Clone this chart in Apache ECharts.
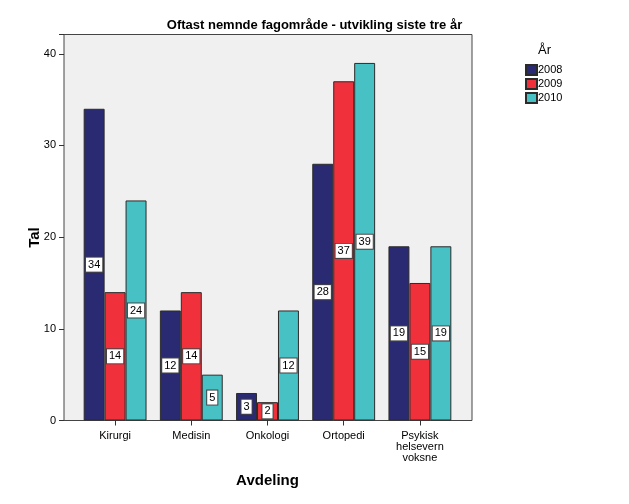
<!DOCTYPE html>
<html>
<head>
<meta charset="utf-8">
<script src="https://cdn.jsdelivr.net/npm/echarts@6/dist/echarts.min.js"></script>
<style>html,body{margin:0;padding:0;background:#fff}#c{width:629px;height:504px}</style>
</head>
<body>
<div id="c"></div>
<script>
const categories = ['Kirurgi', 'Medisin', 'Onkologi', 'Ortopedi', 'Psykisk\nhelsevern\nvoksne'];
const years = ['2008', '2009', '2010'];
const values2008 = [34, 12, 3, 28, 19];
const values2009 = [14, 14, 2, 37, 15];
const values2010 = [24, 5, 12, 39, 19];
const yTicks = [0, 10, 20, 30, 40];

const colors = ['#2a2a72', '#f0313b', '#47c1c4'];
const FONT = '"Liberation Sans", Arial, sans-serif';
const chart = echarts.init(document.getElementById('c'), null, {renderer: 'canvas'});

function mk(name, data, color) {
  return {
    name: name, type: 'bar', xAxisIndex: 1, yAxisIndex: 1, data: data,
    barGap: '0%', barCategoryGap: '17.5%',
    itemStyle: {color: color, borderColor: '#2b2b2b', borderWidth: 1},
    label: {
      show: true, position: 'inside', color: '#000', fontSize: 11, fontFamily: FONT,
      backgroundColor: '#fff', borderColor: '#444', borderWidth: 1, padding: [2, 2, 1, 2]
    },
    emphasis: {disabled: true}
  };
}

chart.setOption({
  animation: false,
  title: [
    {text: 'Oftast nemnde fagområde - utvikling siste tre år', left: 'center', top: 14,
     textStyle: {fontSize: 13, fontWeight: 'bold', fontFamily: FONT, color: '#000'}},
    {text: 'År', left: 533, top: 39, textStyle: {fontSize: 13, fontWeight: 'normal', fontFamily: FONT, color: '#000'}}
  ],
  legend: {
    orient: 'vertical', left: 525, top: 64, padding: 0, itemWidth: 11, itemHeight: 10, itemGap: 2,
    icon: 'rect', data: years,
    textStyle: {fontSize: 11, fontFamily: FONT, color: '#000', lineHeight: 11, padding: [0, 0, 0, -4]}
  },
  grid: [
    {left: 64, top: 34.5, width: 408, height: 386, show: true, backgroundColor: '#f0f0f0', borderColor: '#444', borderWidth: 1},
    {left: 77, top: 34.5, width: 381, height: 386}
  ],
  xAxis: [
    {gridIndex: 0, type: 'category', data: categories, show: false},
    {gridIndex: 1, type: 'category', data: categories, boundaryGap: true,
     axisLine: {show: false},
     axisTick: {show: true, alignWithLabel: true, length: 5, lineStyle: {color: '#333'}},
     axisLabel: {fontSize: 11, fontFamily: FONT, color: '#000', margin: 10, lineHeight: 11, interval: 0},
     name: 'Avdeling', nameLocation: 'middle', nameGap: 53,
     nameTextStyle: {fontSize: 15, fontWeight: 'bold', fontFamily: FONT, color: '#000'}}
  ],
  yAxis: [
    {gridIndex: 0, type: 'value', min: 0, max: 42.1, interval: 10,
     axisLine: {show: false}, splitLine: {show: false},
     axisTick: {show: true, length: 5, lineStyle: {color: '#333'}},
     axisLabel: {fontSize: 11, fontFamily: FONT, color: '#000', margin: 8,
                 formatter: v => yTicks.indexOf(v) >= 0 ? String(v) : ''},
     name: 'Tal', nameLocation: 'middle', nameGap: 22, nameMoveOverlap: false,
     nameTextStyle: {fontSize: 15, fontWeight: 'bold', fontFamily: FONT, color: '#000', padding: [0, 20, 0, 0]}},
    {gridIndex: 1, type: 'value', min: 0, max: 42.1, interval: 10, show: false, splitLine: {show: false}}
  ],
  series: [
    mk(years[0], values2008, colors[0]),
    mk(years[1], values2009, colors[1]),
    mk(years[2], values2010, colors[2])
  ]
});
</script>
</body>
</html>
